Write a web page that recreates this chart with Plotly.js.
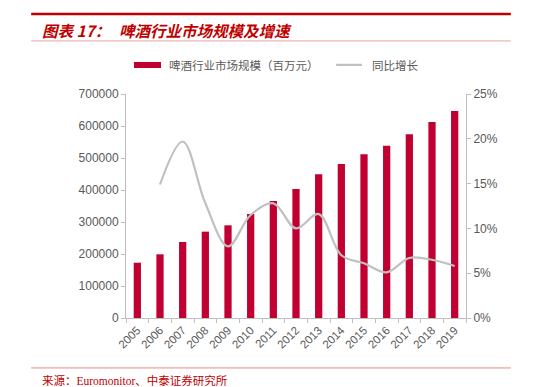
<!DOCTYPE html>
<html>
<head>
<meta charset="utf-8">
<script src="https://cdn.plot.ly/plotly-3.0.1.min.js"></script>
<style>html,body{margin:0;padding:0;background:#fff;}#chart{width:551px;height:387px;}</style>
</head>
<body>
<div id="chart"></div>
<script>
var years = ["2005","2006","2007","2008","2009","2010","2011","2012","2013","2014","2015","2016","2017","2018","2019"];
var marketSize = [172800, 199000, 237500, 269800, 289600, 325000, 365600, 403000, 449000, 481000, 511500, 538500, 574000, 612500, 647000];
var growth = [null, 0.149, 0.197, 0.128, 0.080, 0.115, 0.128, 0.100, 0.116, 0.070, 0.061, 0.051, 0.067, 0.065, 0.058];
var seriesNames = ["啤酒行业市场规模（百万元）", "同比增长"];
var titlePrefix = "图表 17：";
var titleText = "啤酒行业市场规模及增速";
var sourceText = "来源：Euromonitor、中泰证券研究所";

var gray = "#595959";
var axisColor = "#bfbfbf";
var red = "#c00030";
var tickFont = {family: "Liberation Sans, Arial, sans-serif", size: 12, color: gray};

var traces = [
  {type: "bar", x: years, y: marketSize, name: seriesNames[0], marker: {color: red}, yaxis: "y", showlegend: false, hoverinfo: "none"},
  {type: "scatter", mode: "lines", x: years, y: growth, name: seriesNames[1], yaxis: "y2",
   line: {color: "#c0c0c0", width: 2.2, shape: "spline", smoothing: 1}, connectgaps: false, showlegend: false, hoverinfo: "none"}
];

var layout = {
  width: 551, height: 387,
  margin: {l: 126, r: 85, t: 94, b: 69},
  paper_bgcolor: "#fff", plot_bgcolor: "#fff",
  bargap: 0.68,
  showlegend: false,
  xaxis: {
    type: "category", tickangle: -45, tickfont: {family: tickFont.family, size: 11.5, color: gray},
    showline: true, linecolor: axisColor, linewidth: 1, ticks: "outside", tickson: "boundaries",
    ticklen: 4, tickcolor: axisColor, showgrid: false, zeroline: false, fixedrange: true
  },
  yaxis: {
    range: [0, 700000], dtick: 100000, tickformat: "d", tickfont: tickFont,
    showline: true, linecolor: axisColor, ticks: "outside", ticklen: 4, tickcolor: axisColor,
    showgrid: false, zeroline: false
  },
  yaxis2: {
    range: [0, 0.25], dtick: 0.05, tickformat: ".0%", tickfont: tickFont, overlaying: "y", side: "right",
    showline: true, linecolor: axisColor, ticks: "outside", ticklen: 4, tickcolor: axisColor,
    showgrid: false, zeroline: false
  },
  shapes: [
    {type: "line", xref: "paper", yref: "paper", x0: -0.279, x1: 1.132, y0: 1.357, y1: 1.357, line: {color: "#c00000", width: 2.5}},
    {type: "line", xref: "paper", yref: "paper", x0: -0.279, x1: 1.132, y0: 1.237, y1: 1.237, line: {color: "#eaa5a5", width: 1}},
    {type: "line", xref: "paper", yref: "paper", x0: -0.279, x1: 1.132, y0: -0.223, y1: -0.223, line: {color: "#e88a8a", width: 1}},
    {type: "rect", xref: "paper", yref: "paper", x0: 0.0235, x1: 0.103, y0: 1.116, y1: 1.143, fillcolor: red, line: {width: 0}},
    {type: "line", xref: "paper", yref: "paper", x0: 0.618, x1: 0.694, y0: 1.13, y1: 1.13, line: {color: "#c0c0c0", width: 2.2}}
  ],
  annotations: [
    {xref: "paper", yref: "paper", x: -0.253, y: 1.286, xanchor: "left", yanchor: "middle", showarrow: false,
     text: "<b><i>" + titlePrefix + "</i></b>", font: {family: "Noto Sans CJK SC, sans-serif", size: 15.5, color: "#c00000"}},
    {xref: "paper", yref: "paper", x: -0.027, y: 1.286, xanchor: "left", yanchor: "middle", showarrow: false,
     text: "<b><i>" + titleText + "</i></b>", font: {family: "Noto Sans CJK SC, sans-serif", size: 15.5, color: "#c00000"}},
    {xref: "paper", yref: "paper", x: 0.12, y: 1.13, xanchor: "left", yanchor: "middle", showarrow: false,
     text: seriesNames[0], font: {family: "Noto Sans CJK SC, sans-serif", size: 11.5, color: gray}},
    {xref: "paper", yref: "paper", x: 0.717, y: 1.13, xanchor: "left", yanchor: "middle", showarrow: false,
     text: seriesNames[1], font: {family: "Noto Sans CJK SC, sans-serif", size: 11.5, color: gray}},
    {xref: "paper", yref: "paper", x: -0.253, y: -0.281, xanchor: "left", yanchor: "middle", showarrow: false,
     text: sourceText, font: {family: "Liberation Serif, Noto Sans CJK SC, serif", size: 11.5, color: "#c00000"}}
  ]
};

Plotly.newPlot("chart", traces, layout, {staticPlot: true, displayModeBar: false});
</script>
</body>
</html>
